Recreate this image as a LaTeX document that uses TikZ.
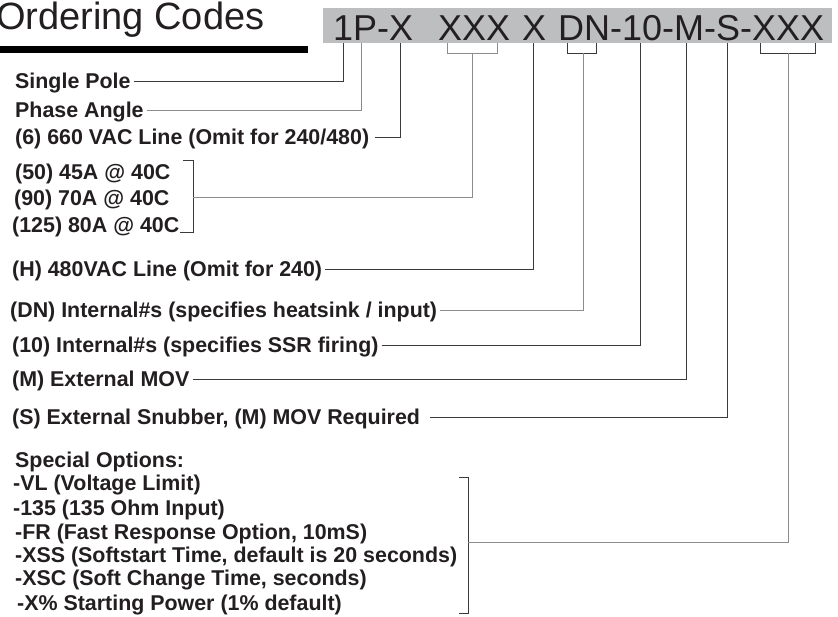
\documentclass[tikz,border=0pt]{standalone}
\usepackage{fontspec}
\setmainfont{Liberation Sans}
\definecolor{ink}{HTML}{231F20}
\definecolor{boxgray}{HTML}{BCBEC0}
\definecolor{leadc}{HTML}{3A3A3A}
\definecolor{leadl}{HTML}{8C8C8C}
\begin{document}
\begin{tikzpicture}[x=1pt,y=-1pt,
  lbl/.style={anchor=west, inner sep=0pt, text height=19pt, text depth=4pt,
    font=\fontsize{21.4}{25}\selectfont\bfseries, text=ink},
  codetxt/.style={anchor=base west, inner sep=0pt,
    font=\fontsize{36}{40}\selectfont, text=ink},
  lead/.style={draw=leadc, line width=0.9pt, shorten <=3pt},
  leadlt/.style={lead, draw=leadl},
  brk/.style={draw=leadc, line width=0.9pt},
  brklt/.style={brk, draw=leadl}]
\useasboundingbox (0,0) rectangle (838,616);
\fill[white] (0,0) rectangle (838,616);
% title and bar
\node[anchor=base west, inner sep=0pt, font=\fontsize{38}{42}\selectfont, text=ink] (title) at (-4,29) {Ordering Codes};
\node[fill=black, inner sep=0pt, minimum width=308pt, minimum height=7pt, anchor=north west] (bar) at (0,46) {};
% code box
\node[fill=boxgray, inner sep=0pt, minimum width=509pt, minimum height=35pt, anchor=north west] (codebox) at (323,8) {};
\node[codetxt] (k1) at (333,40) {1P-X};
\node[codetxt] (k2) at (438,40) {XXX};
\node[codetxt] (k3) at (522,40) {X};
\node[codetxt] (k4) at (558,40) {DN-10-M-S-XXX};
% anchor points under code
\coordinate (b1) at (343,43);
\coordinate (bP) at (361,43);
\coordinate (bX) at (400,43);
\coordinate (bXXX) at (472,53);
\coordinate (bH) at (533,43);
\coordinate (bDN) at (583,53);
\coordinate (b10) at (640,43);
\coordinate (bM) at (686,43);
\coordinate (bS) at (727,43);
\coordinate (bR) at (788,53);
% small brackets under code
\draw[brklt] (447,43) -- (447,53) -- (497,53) -- (497,43);
\draw[brk] (567,43) -- (567,53) -- (596,53) -- (596,43);
\draw[brk] (760,43) -- (760,53) -- (815,53) -- (815,43);
% labels
\node[lbl] (sp) at (15,81) {Single Pole};
\node[lbl] (pa) at (15,110) {Phase Angle};
\node[lbl] (v6) at (15,137) {(6) 660 VAC Line (Omit for 240/480)};
\node[lbl] (g50) at (15,172) {(50) 45A @ 40C};
\node[lbl] (g90) at (14,198) {(90) 70A @ 40C};
\node[lbl] (g125) at (12,225) {(125) 80A @ 40C};
\node[lbl] (h) at (12,269) {(H) 480VAC Line (Omit for 240)};
\node[lbl] (dn) at (10,310) {(DN) Internal\#s (specifies heatsink / input)};
\node[lbl] (ten) at (12,345) {(10) Internal\#s (specifies SSR firing)};
\node[lbl] (m) at (12,379) {(M) External MOV};
\node[lbl] (s) at (12,417) {(S) External Snubber, (M) MOV Required};
\node[lbl] (so) at (15,460) {Special Options:};
\node[lbl] (vl) at (13,483) {-VL (Voltage Limit)};
\node[lbl] (o135) at (13,508) {-135 (135 Ohm Input)};
\node[lbl] (fr) at (15,532) {-FR (Fast Response Option, 10mS)};
\node[lbl] (xss) at (15,555) {-XSS (Softstart Time, default is 20 seconds)};
\node[lbl] (xsc) at (15,578) {-XSC (Soft Change Time, seconds)};
\node[lbl] (xp) at (17,603) {-X\% Starting Power (1\% default)};
% group brackets
\coordinate (gAt1) at (183,160);
\coordinate (gAt2) at (193,160);
\coordinate (gAb2) at (193,232);
\coordinate (gAb1) at (180,232);
\coordinate (gA) at (193,197);
\draw[brk] (gAt1) -- (gAt2) -- (gAb2) -- (gAb1);
\coordinate (gBt1) at (459,477);
\coordinate (gBt2) at (468,477);
\coordinate (gBb2) at (468,613);
\coordinate (gBb1) at (459,613);
\coordinate (gB) at (468,542);
\draw[brk] (gBt1) -- (gBt2) -- (gBb2) -- (gBb1);
% leaders
\draw[lead] (sp.east) -| (b1);
\draw[leadlt] (pa.east) -| (bP);
\draw[lead, shorten <=6pt] (v6.east) -| (bX);
\draw[leadlt, shorten <=0pt] (gA) -| (bXXX);
\draw[lead] (h.east) -| (bH);
\draw[leadlt] (dn.east) -| (bDN);
\draw[lead] (ten.east) -| (b10);
\draw[lead] (m.east) -| (bM);
\draw[lead, shorten <=10pt] (s.east) -| (bS);
\draw[leadlt, shorten <=0pt] (gB) -| (bR);
\end{tikzpicture}
\end{document}
